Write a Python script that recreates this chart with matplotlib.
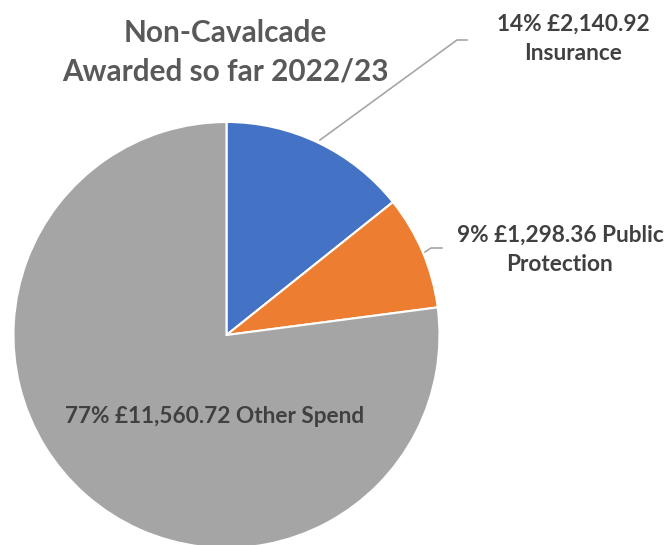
# Non-Cavalcade awarded so far 2022/23 - pie chart

import matplotlib.pyplot as plt

plt.rcParams["font.family"] = ["Lato", "DejaVu Sans"]

categories = ["Insurance", "Public Protection", "Other Spend"]
values = [2140.92, 1298.36, 11560.72]
colors = ["#4472C4", "#ED7D31", "#A5A5A5"]

TEXT_DARK = "#404040"
TEXT_TITLE = "#595959"
LEADER = "#A6A6A6"

total = sum(values)
pcts = [round(v / total * 100) for v in values]

fig = plt.figure(figsize=(6.66, 5.45), dpi=100)
ax = fig.add_axes([0, 0, 1, 1])

# pixel-like coordinates, y pointing down
ax.pie(
    values,
    colors=colors,
    startangle=-90,
    counterclock=True,
    center=(226.5, 335),
    radius=213,
    explode=[0.026] * len(values),
    wedgeprops=dict(edgecolor="white", linewidth=1.5),
)
ax.set_xlim(0, 666)
ax.set_ylim(545, 0)
ax.set_aspect("equal")
ax.axis("off")

# title
ax.text(225, 42, "Non-Cavalcade", ha="center", va="baseline",
        fontsize=21.4, fontweight="bold", color=TEXT_TITLE)
ax.text(225, 80, "Awarded so far 2022/23", ha="center", va="baseline",
        fontsize=21.4, fontweight="bold", color=TEXT_TITLE)

# data labels
lbl = dict(ha="center", va="baseline", fontsize=16.3, fontweight="bold", color=TEXT_DARK)

ax.text(573, 31, f"{pcts[0]}% £{values[0]:,.2f}", **lbl)
ax.text(573, 60, categories[0], **lbl)
ax.plot([320, 457, 467], [140, 40, 40], color=LEADER, linewidth=1.2)

ax.text(560, 242, f"{pcts[1]}% £{values[1]:,.2f} Public", **lbl)
ax.text(560, 271, "Protection", **lbl)
ax.plot([425, 431, 442], [252, 248, 248], color=LEADER, linewidth=1.2)

ax.text(215, 423, f"{pcts[2]}% £{values[2]:,.2f} {categories[2]}", **lbl)

fig.savefig("out.png", dpi=100)
plt.close(fig)
